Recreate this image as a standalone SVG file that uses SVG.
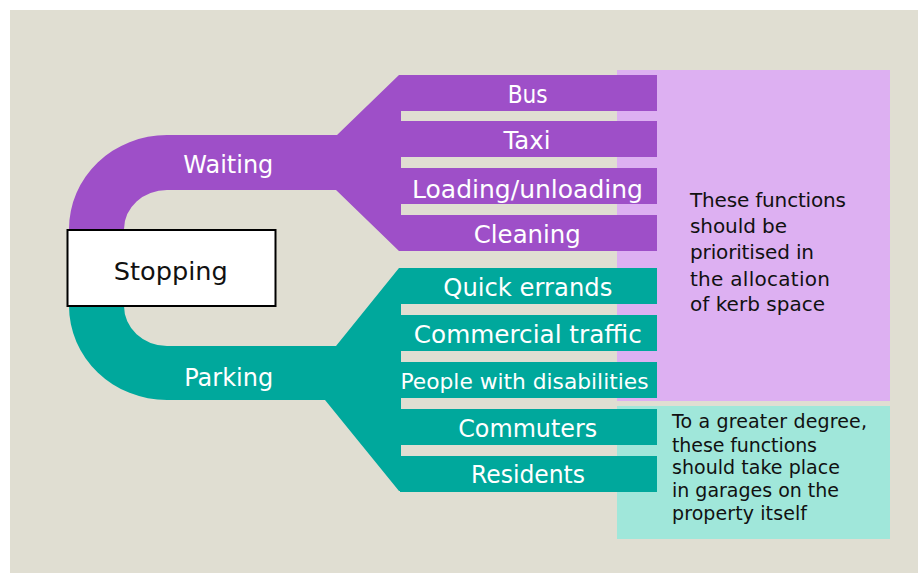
<svg xmlns="http://www.w3.org/2000/svg" width="921" height="573" viewBox="0 0 921 573">
<style>
.lbl{font-family:"DejaVu Sans",sans-serif;font-size:25px;fill:#ffffff;text-anchor:middle}
.note{font-family:"DejaVu Sans",sans-serif;font-size:20px;fill:#111111}
.note2{font-family:"DejaVu Sans",sans-serif;font-size:19px;fill:#111111}
.purple{fill:#9E4FC8}
.teal{fill:#00A89C}
</style>
<rect x="0" y="0" width="921" height="573" fill="#ffffff"/>
<rect x="10" y="10" width="908" height="563" fill="#E0DED2"/>
<g id="note-priority">
<rect x="617" y="70" width="273" height="331" fill="#DDB0F2"/>
<text class="note" x="690" y="206.7" textLength="156">These functions</text>
<text class="note" x="690" y="233.3" textLength="97">should be</text>
<text class="note" x="690" y="259.3" textLength="124">prioritised in</text>
<text class="note" x="690" y="286" textLength="140">the allocation</text>
<text class="note" x="690" y="310.7" textLength="135">of kerb space</text>
</g>
<g id="note-garages">
<rect x="617" y="406" width="273" height="133" fill="#A0E7DA"/>
<text class="note2" x="672" y="427.7" textLength="195">To a greater degree,</text>
<text class="note2" x="672" y="451.7" textLength="145">these functions</text>
<text class="note2" x="672" y="474.3" textLength="168">should take place</text>
<text class="note2" x="672" y="497" textLength="167">in garages on the</text>
<text class="note2" x="672" y="520" textLength="135">property itself</text>
</g>
<g id="connectors">
<path class="purple" d="M167,135 L337,135 L399,75 L401,75 L401,251 L399,251 L336,190 L167,190 A43,39 0 0 0 124,229 L69,229 A98,94 0 0 1 167,135 Z"/>
<path class="teal" d="M124,306 A43,40 0 0 0 167,346 L336,346 L399,268 L401,268 L401,491 L399,491 L325,400 L167,400 A98,94 0 0 1 69,306 Z"/>
</g>
<g id="waiting">
<text class="lbl" x="228.3" y="173.3" textLength="90" lengthAdjust="spacingAndGlyphs">Waiting</text>
</g>
<g id="parking">
<text class="lbl" x="228.7" y="386" textLength="89" lengthAdjust="spacingAndGlyphs">Parking</text>
</g>
<g id="stopping">
<rect x="67.5" y="230" width="208" height="76" fill="#ffffff" stroke="#000000" stroke-width="2"/>
<text x="170.8" y="279.5" font-family="DejaVu Sans, sans-serif" font-size="25.5" fill="#111111" text-anchor="middle" textLength="114" lengthAdjust="spacingAndGlyphs">Stopping</text>
</g>
<g id="bus">
<rect class="purple" x="400" y="75" width="257" height="36"/>
<text class="lbl" x="527.7" y="102.7" textLength="40" lengthAdjust="spacingAndGlyphs">Bus</text>
</g>
<g id="taxi">
<rect class="purple" x="400" y="121" width="257" height="36"/>
<text class="lbl" x="527" y="149.3" textLength="47" lengthAdjust="spacingAndGlyphs">Taxi</text>
</g>
<g id="loading">
<rect class="purple" x="400" y="168" width="257" height="36"/>
<text class="lbl" x="527.5" y="197.7" textLength="231" lengthAdjust="spacingAndGlyphs">Loading/unloading</text>
</g>
<g id="cleaning">
<rect class="purple" x="400" y="215" width="257" height="36"/>
<text class="lbl" x="527.3" y="243.3" textLength="107" lengthAdjust="spacingAndGlyphs">Cleaning</text>
</g>
<g id="quick-errands">
<rect class="teal" x="400" y="268" width="257" height="36"/>
<text class="lbl" x="527.8" y="296" textLength="169" lengthAdjust="spacingAndGlyphs">Quick errands</text>
</g>
<g id="commercial-traffic">
<rect class="teal" x="400" y="315" width="257" height="36"/>
<text class="lbl" x="527.8" y="343.3" textLength="228" lengthAdjust="spacingAndGlyphs">Commercial traffic</text>
</g>
<g id="people-disabilities">
<rect class="teal" x="400" y="362" width="257" height="36"/>
<text class="lbl" x="524.5" y="389.3" style="font-size:22px" textLength="248" lengthAdjust="spacingAndGlyphs">People with disabilities</text>
</g>
<g id="commuters">
<rect class="teal" x="400" y="409" width="257" height="36"/>
<text class="lbl" x="527.7" y="436.7" textLength="139" lengthAdjust="spacingAndGlyphs">Commuters</text>
</g>
<g id="residents">
<rect class="teal" x="400" y="456" width="257" height="36"/>
<text class="lbl" x="528" y="483.3" textLength="114" lengthAdjust="spacingAndGlyphs">Residents</text>
</g>
</svg>
